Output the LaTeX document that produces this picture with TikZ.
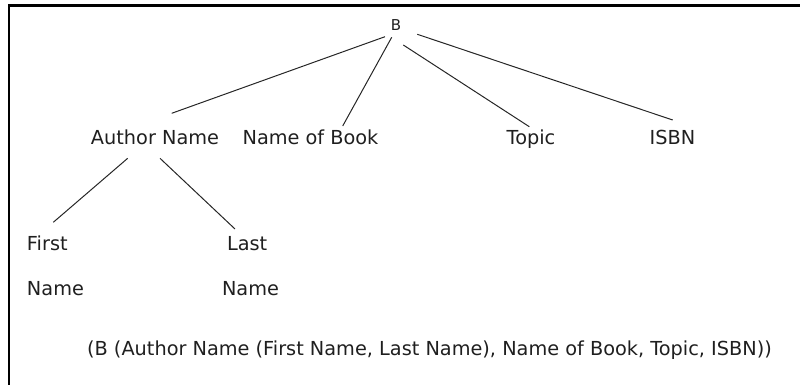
\documentclass[tikz,border=0pt]{standalone}
\usepackage{fontspec}
\setmainfont{DejaVu Sans}
\usetikzlibrary{calc}
\begin{document}
\begin{tikzpicture}[x=1pt,y=-1pt,
  lbl/.style={inner sep=0pt,outer sep=0pt,font=\fontsize{19.3}{23}\selectfont,text=black!88},
  rootlbl/.style={inner sep=0pt,outer sep=0pt,font=\fontsize{15}{18}\selectfont,text=black!88},
  edge/.style={line width=1pt,draw=black!85},
  frame/.style={line width=2.4pt,draw=black}]
\useasboundingbox (0,0) rectangle (800,385);
\draw[frame] (8.7,385) -- (8.7,5.7) -- (800,5.7);
\node[rootlbl,anchor=base] (B) at (396,30.7) {B};
\node[lbl,anchor=base] (author) at (155,145) {Author Name};
\node[lbl,anchor=base] (book) at (310.5,145) {Name of Book};
\node[lbl,anchor=base] (topic) at (531,145) {Topic};
\node[lbl,anchor=base] (isbn) at (672.5,145) {ISBN};
\node[lbl,anchor=base west] (first) at (27,250) {First};
\node[lbl,anchor=base west] (firstname) at (27,295) {Name};
\node[lbl,anchor=base west] (last) at (227,250) {Last};
\node[lbl,anchor=base west] (lastname) at (222,295) {Name};
\node[lbl,anchor=base] (bracket) at (429.5,355) {(B (Author Name (First Name, Last Name), Name of Book, Topic, ISBN))};
\draw[edge] ($(B.base)+(-11,6)$) -- ($(author.base)+(16.7,-31.7)$);
\draw[edge] ($(B.base)+(-4.3,6.6)$) -- ($(book.base)+(32.2,-19)$);
\draw[edge] ($(B.base)+(7.3,14.3)$) -- ($(topic.base)+(-1.7,-18.3)$);
\draw[edge] ($(B.base)+(21.3,3.6)$) -- ($(isbn.base)+(0.2,-25)$);
\draw[edge] ($(author.base)+(-27.3,13.3)$) -- ($(first.base west)+(26.3,-27.7)$);
\draw[edge] ($(author.base)+(5,13.3)$) -- ($(last.base west)+(8,-21)$);
\end{tikzpicture}
\end{document}
